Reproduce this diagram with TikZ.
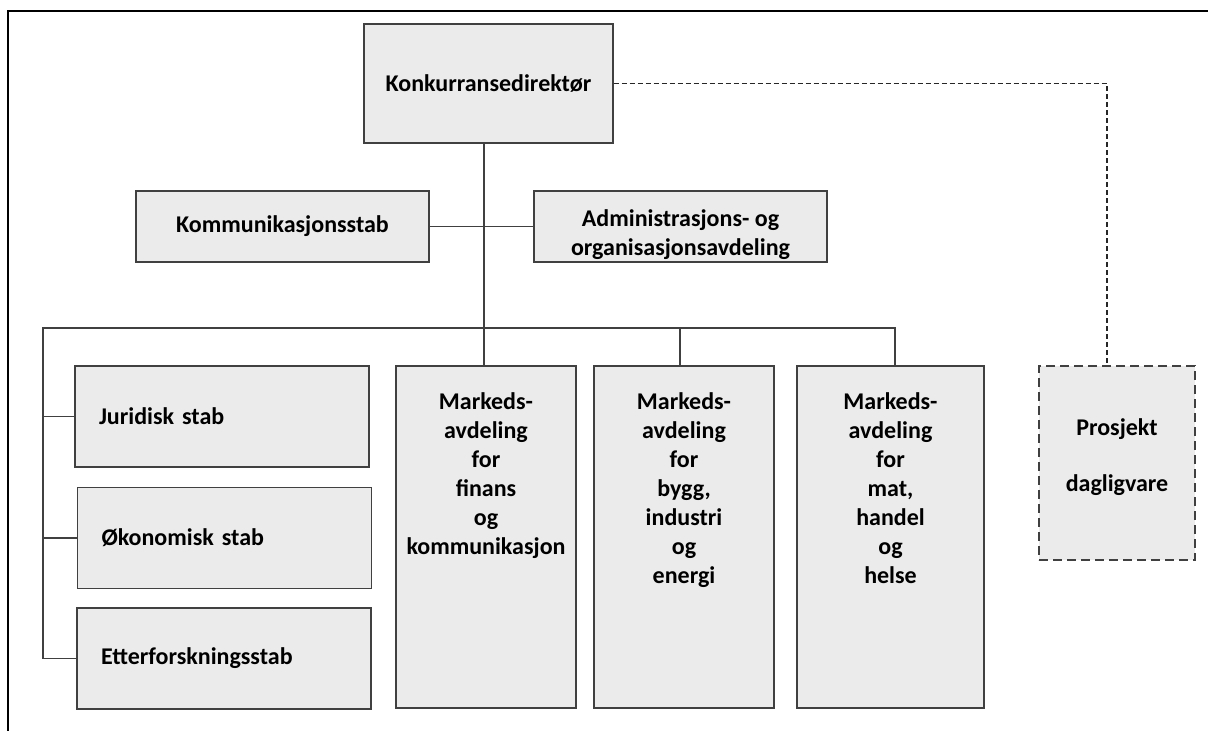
\documentclass[tikz,border=0pt]{standalone}
\usepackage{fontspec}
\setmainfont{Carlito}
\usetikzlibrary{positioning}
\definecolor{boxfill}{RGB}{235,235,235}
\definecolor{boxline}{RGB}{64,64,64}
\begin{document}
\begin{tikzpicture}[x=1pt, y=-1pt,
  font=\fontsize{24}{29}\selectfont\bfseries,
  unit/.style={draw=boxline, fill=boxfill, line width=1.3pt, inner sep=0pt, align=center},
  stab/.style={unit, minimum width=294pt, minimum height=101pt, text width=246pt, align=left},
  avd/.style={unit, minimum height=342pt},
  coltext/.style={inner sep=0pt, align=center},
  link/.style={draw=boxline, line width=1.3pt},
  dotlink/.style={draw=black!85, line width=1.2pt, dash pattern=on 5pt off 3pt}]
\useasboundingbox (0,0) rectangle (1208,731);
\draw[line width=2pt] (8,731) -- (8,11) -- (1208,11);
\node[unit, minimum width=249pt, minimum height=119pt] (direktor) at (488.5,83.5) {Konkurransedirektør};
\node[unit, minimum width=293pt, minimum height=71pt] (kommstab) at (282.5,226.5) {Kommunikasjonsstab};
\node[unit, minimum width=293pt, minimum height=71pt, text height=62pt] (admin) at (680.5,226.5) {Administrasjons- og\\organisasjonsavdeling};
\node[stab] (juridisk) at (222,416.5) {Juridisk stab};
\node[stab] (okonomisk) at (224.5,538) {Økonomisk stab};
\node[stab] (etterforsk) at (224,658.5) {Etterforskningsstab};
\node[avd, minimum width=180pt] (finans) at (486,537) {};
\node[coltext, below=27pt of finans.north] (finanstxt) {Markeds-\\avdeling\\for\\finans\\og\\kommunikasjon};
\node[avd, minimum width=180pt] (bygg) at (684,537) {};
\node[coltext, below=27pt of bygg.north] (byggtxt) {Markeds-\\avdeling\\for\\bygg,\\industri\\og\\energi};
\node[avd, minimum width=187pt] (mat) at (890.5,537) {};
\node[coltext, below=27pt of mat.north] (mattxt) {Markeds-\\avdeling\\for\\mat,\\handel\\og\\helse};
\node[unit, dash pattern=on 9pt off 5pt, minimum width=156pt, minimum height=194pt] (prosjekt) at (1117,463) {};
\node[coltext, below=53pt of prosjekt.north] (prosjtxt) {Prosjekt\\[27pt]dagligvare};
\coordinate (spine) at (484,328);
\coordinate (busl) at (43,328);
\coordinate (busm) at (680,328);
\coordinate (busr) at (895,328);
\coordinate (pk) at (1107,82);
\draw[link] (direktor.south -| spine) -- (finans.north -| spine);
\draw[link] (kommstab.east) -- (admin.west);
\draw[link] (etterforsk.west -| busl) -- (busl) -- (busr) -- (mat.north -| busr);
\draw[link] (busm) -- (bygg.north -| busm);
\foreach \s in {juridisk, okonomisk, etterforsk}
  \draw[link] (\s.west -| busl) -- (\s.west);
\draw[dotlink] (direktor.east) -| (prosjekt.north -| pk);
\end{tikzpicture}
\end{document}
